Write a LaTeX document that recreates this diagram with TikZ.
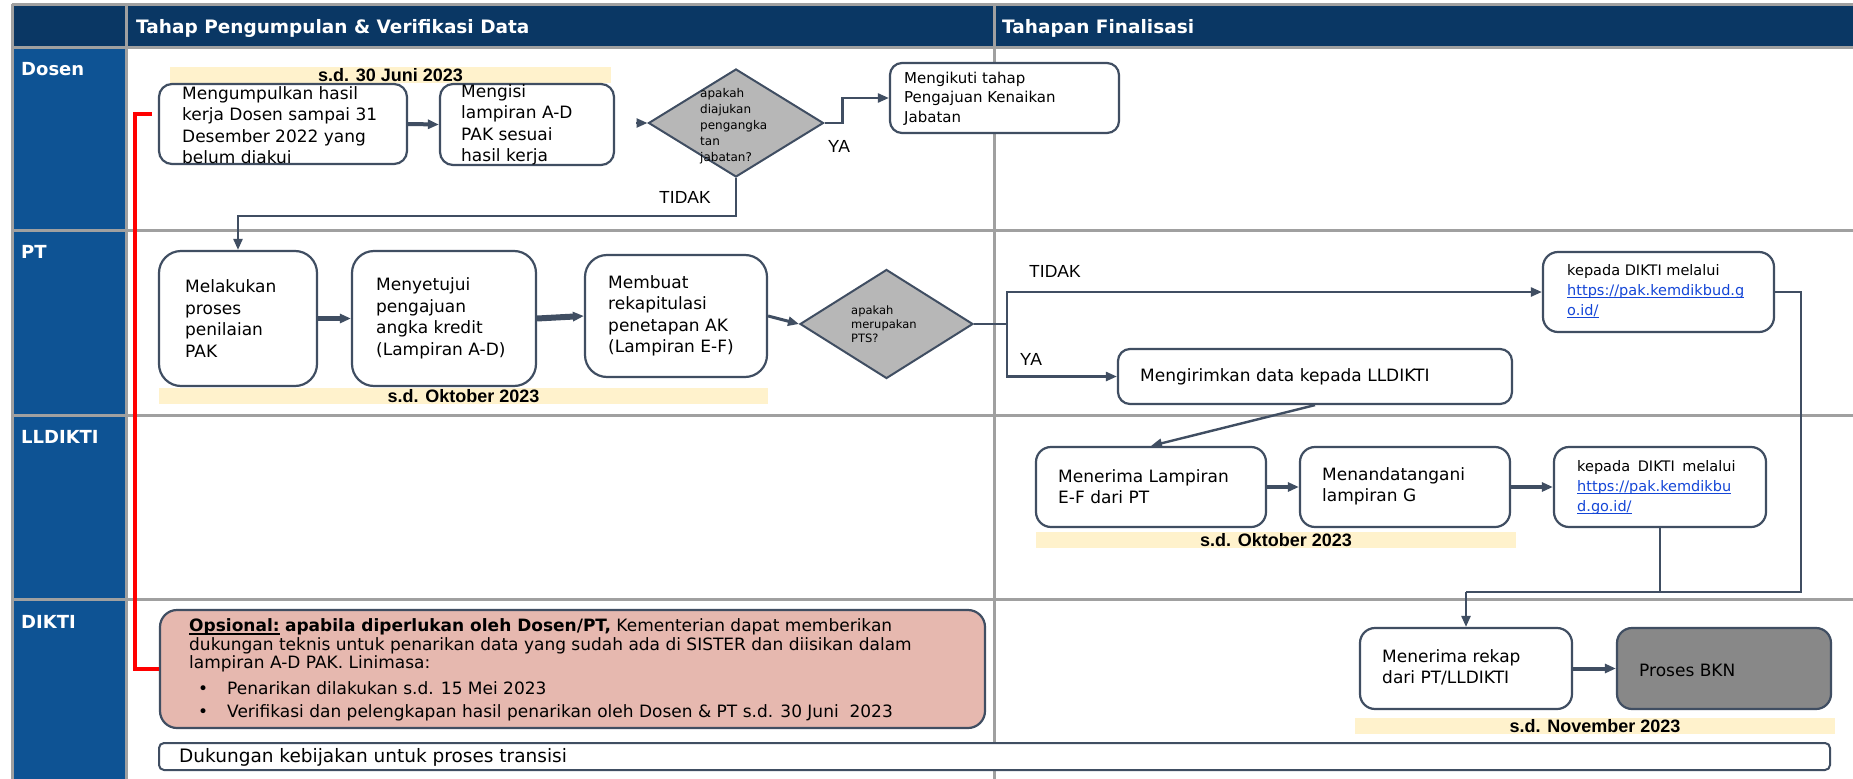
\documentclass[tikz,border=0pt]{standalone}
\usepackage{fontspec}
\setmainfont{DejaVu Sans}
\newfontfamily\arialf{Liberation Sans}
\usetikzlibrary{arrows.meta,shapes.geometric}
\definecolor{navy}{RGB}{10,55,100}
\definecolor{laneblue}{RGB}{14,83,148}
\definecolor{gridgray}{RGB}{160,160,160}
\definecolor{slate}{RGB}{64,78,98}
\definecolor{bandyellow}{RGB}{255,242,204}
\definecolor{diagray}{RGB}{183,183,183}
\definecolor{pinkfill}{RGB}{230,184,175}
\definecolor{bkngray}{RGB}{136,136,136}
\definecolor{linkblue}{RGB}{20,70,215}
\definecolor{redline}{RGB}{255,0,0}
\newcommand{\fsz}[2]{\fontsize{#1pt}{#2pt}\selectfont}
\newsavebox{\ulbox}
\newcommand{\ulb}[1]{\sbox{\ulbox}{#1}\rlap{\rule[-2.8pt]{\wd\ulbox}{1.3pt}}\usebox{\ulbox}}
\newcommand{\lnk}[1]{\textcolor{linkblue}{\ulb{#1}}}
\begin{document}
\begin{tikzpicture}[x=1pt,y=-1pt,
  >={Triangle[length=11pt,width=9pt]},
  grid/.style={draw=gridgray, line width=3pt},
  box/.style={draw=slate, line width=2.2pt, fill=white, inner sep=0pt},
  txt/.style={inner sep=0pt, align=left, text=black, font=\fsz{17}{21.5}},
  smalltxt/.style={inner sep=0pt, align=left, text=black, font=\fsz{14.5}{20}},
  dia/.style={diamond, draw=slate, fill=diagray, line width=2pt, inner sep=0pt},
  band/.style={fill=bandyellow, inner sep=0pt, text=black, font=\arialf\bfseries\fsz{18}{18}},
  lanelbl/.style={text=white, font=\bfseries\fsz{18}{18}, inner sep=0pt, anchor=base west},
  hdr/.style={text=white, font=\bfseries\fsz{18.5}{20}, inner sep=0pt, anchor=base west},
  lbl/.style={font=\arialf\fsz{17.5}{18}, inner sep=0pt, text=black},
  conn/.style={draw=slate, line width=2.4pt},
  arr/.style={draw=slate, line width=2.4pt, ->},
  tarr/.style={draw=slate, line width=#1, ->},
  redpath/.style={draw=redline, line width=3.5pt}
]
\useasboundingbox (0,0) rectangle (1853,779);
\fill[white] (0,0) rectangle (1853,779);
% swimlane frame
\fill[navy] (12,4) rectangle (1853,47);
\fill[laneblue] (12,47) rectangle (126,779);
\draw[grid] (12,4) -- (1853,4);
\draw[grid] (12,47) -- (1853,47);
\draw[grid] (12,230) -- (1853,230);
\draw[grid] (12,415) -- (1853,415);
\draw[grid] (12,599) -- (1853,599);
\draw[grid] (12,4) -- (12,779);
\draw[grid] (126,4) -- (126,779);
\draw[grid] (994,4) -- (994,779);
% headers and lane labels
\node[hdr] (h1) at (136,33) {Tahap Pengumpulan \& Verifikasi Data};
\node[hdr] (h2) at (1002,33) {Tahapan Finalisasi};
\node[lanelbl] (ld) at (21,75) {Dosen};
\node[lanelbl] (lp) at (21,258) {PT};
\node[lanelbl] (ll) at (21,443) {LLDIKTI};
\node[lanelbl] (lk) at (21,628) {DIKTI};
% date bands
\node[band, minimum width=441pt, minimum height=16pt] (yb1) at (390.5,75) {s.d. 30 Juni 2023};
\node[band, minimum width=609pt, minimum height=16pt] (yb2) at (463.5,396) {s.d. Oktober 2023};
\node[band, minimum width=480pt, minimum height=16pt] (yb3) at (1276,540) {s.d. Oktober 2023};
\node[band, minimum width=480pt, minimum height=16pt] (yb4) at (1595,726) {s.d. November 2023};
% Dosen lane
\node[box, rounded corners=13pt, minimum width=248pt, minimum height=80pt] (b1) at (283,124) {};
\node[txt, anchor=west] (b1t) at (182,125) {Mengumpulkan hasil\\kerja Dosen sampai 31\\Desember 2022 yang\\belum diakui};
\node[box, rounded corners=13pt, minimum width=174pt, minimum height=81pt] (b2) at (527,124.5) {};
\node[txt, anchor=west] (b2t) at (461,125) {Mengisi\\lampiran A-D\\PAK sesuai\\hasil kerja};
\node[dia, minimum width=175pt, minimum height=108pt] (d1) at (736,123) {};
\node[txt, anchor=west, font=\fsz{12}{16}] (d1t) at (700,126) {apakah\\diajukan\\pengangka\\tan\\jabatan?};
\node[box, rounded corners=12pt, minimum width=229pt, minimum height=70pt] (m1) at (1004.5,98) {};
\node[txt, anchor=west, font=\fsz{15}{19.5}] (m1t) at (904,98.5) {Mengikuti tahap\\Pengajuan Kenaikan\\Jabatan};
% PT lane
\node[box, rounded corners=22pt, minimum width=158pt, minimum height=135pt] (p1) at (238,318.5) {};
\node[txt, anchor=west] (p1t) at (185,318.5) {Melakukan\\proses\\penilaian\\PAK};
\node[box, rounded corners=22pt, minimum width=184pt, minimum height=135pt] (p2) at (444,318.5) {};
\node[txt, anchor=west] (p2t) at (376,318.5) {Menyetujui\\pengajuan\\angka kredit\\(Lampiran A-D)};
\node[box, rounded corners=22pt, minimum width=182pt, minimum height=122pt] (p3) at (676,316) {};
\node[txt, anchor=west] (p3t) at (608,316) {Membuat\\rekapitulasi\\penetapan AK\\(Lampiran E-F)};
\node[dia, minimum width=173pt, minimum height=109pt] (d2) at (886.5,324) {};
\node[txt, anchor=west, font=\fsz{11.5}{14}] (d2t) at (851,324) {apakah\\merupakan\\PTS?};
\node[box, rounded corners=15pt, minimum width=231pt, minimum height=80pt] (k1) at (1658.5,292) {};
\node[smalltxt, anchor=west] (k1t) at (1567,291) {kepada DIKTI melalui\\\lnk{https://pak.kemdikbud.g}\\\lnk{o.id/}};
\node[box, rounded corners=12pt, minimum width=394pt, minimum height=55pt] (s1) at (1315,376.5) {};
\node[txt, anchor=west] (s1t) at (1140,377) {Mengirimkan data kepada LLDIKTI};
% LLDIKTI lane
\node[box, rounded corners=15pt, minimum width=230pt, minimum height=80pt] (l1) at (1151,487) {};
\node[txt, anchor=west] (l1t) at (1058,486.5) {Menerima Lampiran\\E-F dari PT};
\node[box, rounded corners=15pt, minimum width=210pt, minimum height=80pt] (l2) at (1405,487) {};
\node[txt, anchor=west] (l2t) at (1322,486.5) {Menandatangani\\lampiran G};
\node[box, rounded corners=15pt, minimum width=212pt, minimum height=80pt] (k2) at (1660,487) {};
\node[smalltxt, anchor=west] (k2t) at (1577,487) {kepada\hspace{3pt} DIKTI\hspace{3pt} melalui\\\lnk{https://pak.kemdikbu}\\\lnk{d.go.id/}};
% DIKTI lane
\node[box, fill=pinkfill, rounded corners=17pt, minimum width=825pt, minimum height=118pt] (op) at (572.5,669) {};
\node[txt, anchor=west, font=\fsz{17}{18.5}] (opt) at (189,670) {\ulb{\textbf{Opsional:}} \textbf{apabila diperlukan oleh Dosen/PT,} Kementerian dapat memberikan\\dukungan teknis untuk penarikan data yang sudah ada di SISTER dan diisikan dalam\\lampiran A-D PAK. Linimasa:\\[7pt]\hspace*{9pt}\makebox[29pt][l]{•}Penarikan dilakukan s.d. 15 Mei 2023\\[4.5pt]\hspace*{9pt}\makebox[29pt][l]{•}Verifikasi dan pelengkapan hasil penarikan oleh Dosen \& PT s.d. 30 Juni\ \ 2023};
\node[box, line width=2pt, rounded corners=5pt, minimum width=1671pt, minimum height=27pt] (dk) at (994.5,756.5) {};
\node[txt, anchor=west, font=\fsz{18.5}{20}] (dkt) at (179,757) {Dukungan kebijakan untuk proses transisi};
\node[box, rounded corners=15pt, minimum width=212pt, minimum height=81pt] (rk) at (1466,668.5) {};
\node[txt, anchor=west] (rkt) at (1382,667.5) {Menerima rekap\\dari PT/LLDIKTI};
\node[box, fill=bkngray, rounded corners=15pt, minimum width=214pt, minimum height=81pt] (bkn) at (1724,668.5) {};
\node[txt, anchor=west] (bknt) at (1639,670) {Proses BKN};
% labels
\node[lbl] (tidak1) at (685,197) {TIDAK};
\node[lbl] (ya1) at (839,146) {YA};
\node[lbl] (tidak2) at (1055,271) {TIDAK};
\node[lbl] (ya2) at (1031,359) {YA};
% connectors
\coordinate (d1in) at (636,123);
\coordinate (jn) at (1466,592);
\draw[tarr=4pt] (b1.east) -- (b2.west);
\draw[arr] (d1in) -- (d1.west);
\draw[arr] (d1.east) -- ++(18,0) |- (m1.west);
\draw[arr] (d1.south) -- ++(0,38) -| (p1.north);
\draw[tarr=5pt] (p1.east) -- (p2.west);
\draw[tarr=6pt] (p2.east) -- (p3.west);
\draw[tarr=3pt] (p3.east) -- (d2.west);
\draw[arr] (d2.east) -- ++(33,0) |- (k1.west);
\draw[arr] (d2.east) -- ++(33,0) |- (s1.west);
\draw[arr] (s1.south) -- (l1.north);
\draw[tarr=3.5pt] (l1.east) -- (l2.west);
\draw[tarr=3.5pt] (l2.east) -- (k2.west);
\draw[conn] (k1.east) -- ++(26,0) |- (jn);
\draw[conn] (k2.south) |- (jn);
\draw[arr] (jn) -- (rk.north);
\draw[tarr=4pt] (rk.east) -- (bkn.west);
\draw[redpath] ([xshift=-6pt,yshift=10pt]b1.west) -- ++(-17,0) |- (op.west);
\end{tikzpicture}
\end{document}
